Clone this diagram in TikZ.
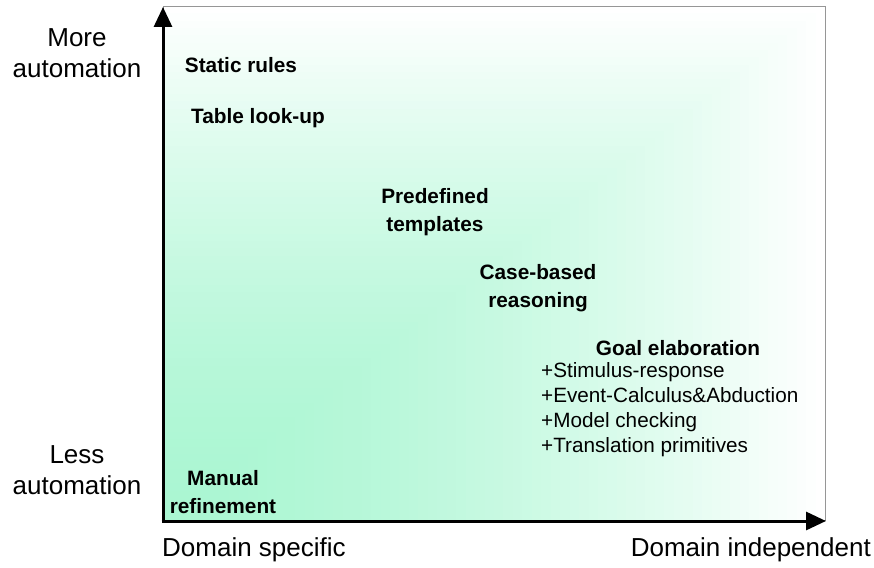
\documentclass[tikz,border=0pt]{standalone}
\usepackage{fontspec}
\setmainfont{Liberation Sans}
\usetikzlibrary{arrows.meta}
\definecolor{gA}{RGB}{170,246,210}
\definecolor{boxline}{RGB}{150,150,150}
\begin{document}
\begin{tikzpicture}[x=1pt,y=-1pt,
  lbl/.style={inner sep=0pt,font=\fontsize{20.8}{28}\selectfont\bfseries,align=center},
  axlbl/.style={inner sep=0pt,font=\fontsize{26}{31}\selectfont,align=center},
  lst/.style={inner sep=0pt,font=\fontsize{20.7}{25}\selectfont,align=left},
  axis/.style={line width=3pt,-{Triangle[length=20pt,width=18pt]}}]
\useasboundingbox (0,0) rectangle (874,567);
% gradient (rectangular, from the lower left corner)
\foreach \i in {0,...,69}{
  \pgfmathsetmacro{\t}{1-\i/70}
  \pgfmathsetmacro{\p}{100*(1-\t^1.6)}
  \fill[gA!\p!white] (163,520) rectangle ({163+662*\t},{520-514*\t});
}
\draw[boxline,line width=0.8pt] (163,6) rectangle (825,520);
% axes
\coordinate (origin) at (163,521);
\coordinate (ytip) at (163,7);
\coordinate (xtip) at (826,521);
\draw[axis] (origin) -- (ytip);
\draw[axis] ([xshift=-1.5pt]origin) -- (xtip);
% axis labels
\node[axlbl] (more) at (77,53) {More\\automation};
\node[axlbl] (less) at (77,470) {Less\\automation};
\node[axlbl,anchor=west] (dspec) at (162,550) {Domain specific};
\node[axlbl,anchor=east] (dind) at (871,550) {Domain independent};
% labels
\node[lbl] (static) at (241,65) {Static rules};
\node[lbl] (table) at (258,118) {Table look-up};
\node[lbl] (predef) at (435,212) {Predefined\\templates};
\node[lbl] (cbr) at (538,288) {Case-based\\reasoning};
\node[lbl] (goal) at (678,348) {Goal elaboration};
\node[lst,anchor=west] (goallist) at (541,410) {+Stimulus-response\\+Event-Calculus\&Abduction\\+Model checking\\+Translation primitives};
\node[lbl] (manual) at (223,492) {Manual\\refinement};
\end{tikzpicture}
\end{document}
